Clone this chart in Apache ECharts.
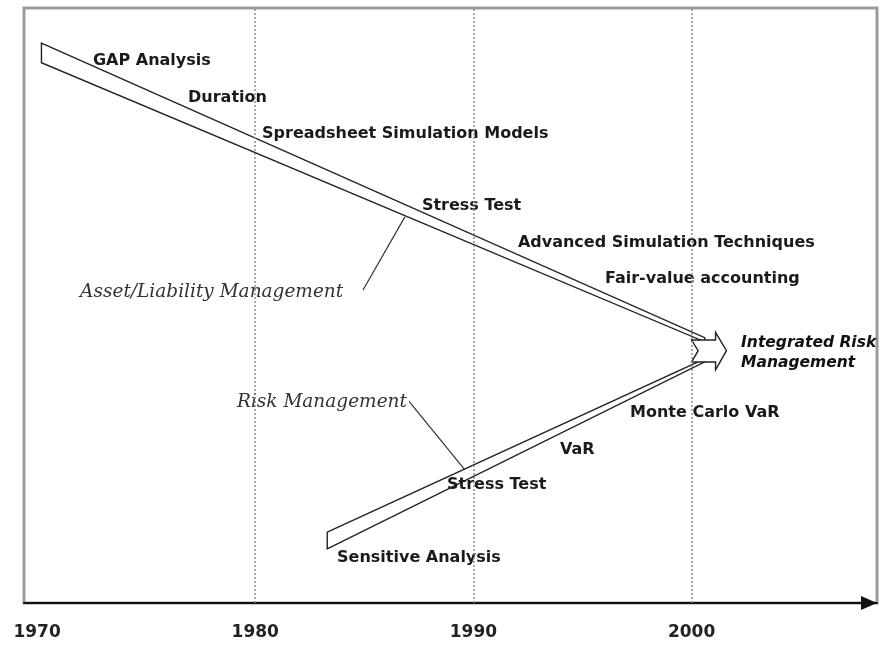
<!DOCTYPE html>
<html><head><meta charset="utf-8">
<script src="https://cdn.jsdelivr.net/npm/echarts@6/dist/echarts.min.js"></script>
<style>html,body{margin:0;padding:0;background:#fff}#c{width:881px;height:647px}</style>
</head><body><div id="c"></div>
<script>
// Axis ticks and dotted decade lines
const yearTicks = [1970, 1980, 1990, 2000];
const gridYears = [1980, 1990, 2000];

// Shapes in [year, level] (level 0..100 on a hidden vertical scale)
const almWedge = [[1970.2, 94.1], [2000.6, 44.6], [2000.6, 43.9], [1970.2, 90.8]];
const rmWedge = [[1983.3, 11.9], [2000.7, 41.2], [2000.7, 40.7], [1983.3, 9.1]];
const mergeArrow = [[2000.0, 44.2], [2001.1, 44.2], [2001.1, 45.5], [2001.6, 42.4], [2001.1, 39.2], [2001.1, 40.5], [2000.0, 40.5], [2000.3, 42.4]];
const almCallout = [[1984.94, 52.6], [1986.86, 64.9]];
const rmCallout = [[1986.91, 34.5], [1989.6, 22.4]];

// Technique labels
const techLabels = ['GAP Analysis', 'Duration', 'Spreadsheet Simulation Models', 'Stress Test',
  'Advanced Simulation Techniques', 'Fair-value accounting', 'Monte Carlo VaR', 'VaR', 'Stress Test', 'Sensitive Analysis'];
const techYears = [1972.56, 1976.92, 1980.31, 1987.64, 1992.04, 1996.03, 1997.18, 1993.97, 1988.79, 1983.75];
const techLevels = [91.1, 84.9, 78.8, 66.7, 60.5, 54.5, 31.9, 25.7, 19.8, 7.6];

// Track labels
const trackLabels = ['Asset/Liability Management', 'Risk Management'];
const trackYears = [1971.88, 1979.07];
const trackLevels = [52.3, 33.8];

// Goal label
const goalLabel = 'Integrated Risk\nManagement';
const goalYear = 2002.27;
const goalLevel = 42.0;

const chart = echarts.init(document.getElementById('c'));

const shapes = [
  {pts: almWedge, kind: 'polygon'},
  {pts: rmWedge, kind: 'polygon'},
  {pts: almCallout, kind: 'polyline'},
  {pts: rmCallout, kind: 'polyline'},
  {pts: mergeArrow, kind: 'polygon'}
];

const SANS = '"DejaVu Sans", Verdana, sans-serif';

chart.setOption({
  animation: false,
  backgroundColor: '#fff',
  grid: {left: 24, right: 4, top: 8, bottom: 44, show: true, borderColor: '#9a9a9a', borderWidth: 3, backgroundColor: '#fff'},
  xAxis: {
    type: 'value', min: 1969.4, max: 2008.5,
    axisLine: {show: true, onZero: false, lineStyle: {color: '#111', width: 2}, symbol: ['none', 'triangle'], symbolSize: [14, 16], symbolOffset: [0, -8]},
    axisTick: {show: false},
    splitLine: {show: false},
    axisLabel: {customValues: yearTicks, fontSize: 17, fontWeight: 'bold', color: '#222', fontFamily: SANS, margin: 21, formatter: v => String(v)}
  },
  yAxis: {type: 'value', min: 0, max: 100, show: false},
  series: [
    {
      type: 'line', data: [], silent: true,
      markLine: {silent: true, symbol: 'none', label: {show: false},
        lineStyle: {type: [2, 2], color: '#8a8a8a', width: 1.5},
        data: gridYears.map(y => ({xAxis: y}))}
    },
    {
      type: 'custom', silent: true,
      data: shapes.map(s => s.pts[0]),
      encode: {x: 0, y: 1},
      renderItem: function (params, api) {
        const s = shapes[params.dataIndex];
        const pts = s.pts.map(p => api.coord(p));
        if (s.kind === 'polygon') {
          return {type: 'polygon', shape: {points: pts}, style: {fill: '#fff', stroke: '#222', lineWidth: 1.4}};
        }
        return {type: 'polyline', shape: {points: pts}, style: {fill: null, stroke: '#333', lineWidth: 1.2}};
      }
    },
    {
      type: 'custom', silent: true,
      data: techLabels.map((t, i) => [techYears[i], techLevels[i]]),
      encode: {x: 0, y: 1},
      renderItem: function (params, api) {
        const p = api.coord([api.value(0), api.value(1)]);
        return {type: 'text', x: p[0], y: p[1], style: {text: techLabels[params.dataIndex], fill: '#1a1a1a',
          font: 'bold 16px ' + SANS, align: 'left', verticalAlign: 'middle'}};
      }
    },
    {
      type: 'custom', silent: true,
      data: trackLabels.map((t, i) => [trackYears[i], trackLevels[i]]),
      encode: {x: 0, y: 1},
      renderItem: function (params, api) {
        const p = api.coord([api.value(0), api.value(1)]);
        return {type: 'text', x: p[0], y: p[1], style: {text: trackLabels[params.dataIndex], fill: '#333',
          font: 'italic 18.5px "DejaVu Serif", serif', align: 'left', verticalAlign: 'middle',
          backgroundColor: '#fff', padding: [8, 2]}};
      }
    },
    {
      type: 'custom', silent: true,
      data: [[goalYear, goalLevel]],
      encode: {x: 0, y: 1},
      renderItem: function (params, api) {
        const p = api.coord([api.value(0), api.value(1)]);
        return {type: 'text', x: p[0], y: p[1], style: {text: goalLabel, fill: '#111',
          font: 'italic bold 15.5px ' + SANS, align: 'left', verticalAlign: 'middle', lineHeight: 20}};
      }
    }
  ]
});
</script>
</body></html>
